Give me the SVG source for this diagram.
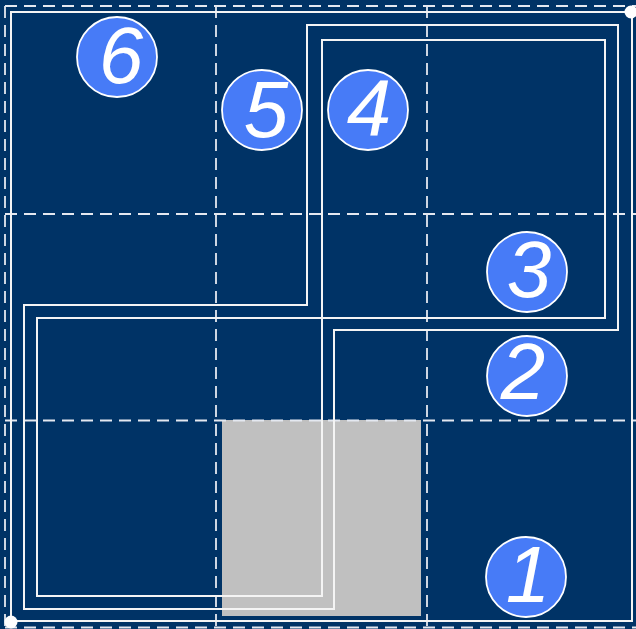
<svg xmlns="http://www.w3.org/2000/svg" width="636" height="629" viewBox="0 0 636 629">
<defs>
<style>
.grid{stroke:#e4e8f0;stroke-width:1.8;stroke-dasharray:12 7;fill:none}
.wire{stroke:#f4f4f4;stroke-width:2;fill:none}
.node circle{fill:#477bf7;stroke:#ffffff;stroke-width:1.8}
.node text{fill:#ffffff;font-family:"Liberation Sans",Arial,sans-serif;font-style:italic;font-size:80px;text-anchor:middle}
.dot{fill:#ffffff}
</style>
</defs>
<rect x="0" y="0" width="636" height="629" fill="#003366"/>
<rect id="block" x="222" y="420" width="199" height="196" fill="#c0c0c0"/>
<g id="grid">
<line class="grid" x1="5" y1="6" x2="5" y2="628"/>
<line class="grid" x1="216" y1="6" x2="216" y2="628"/>
<line class="grid" x1="427" y1="6" x2="427" y2="628"/>
<line class="grid" x1="5" y1="6" x2="636" y2="6"/>
<line class="grid" x1="5" y1="214" x2="636" y2="214"/>
<line class="grid" x1="5" y1="420.5" x2="636" y2="420.5"/>
<line class="grid" x1="5" y1="627.5" x2="636" y2="627.5"/>
</g>
<g id="connectors">
<path class="wire" d="M11,621 L11,12 L632,12 L632,621 Z"/>
<path class="wire" d="M307,25 L618,25 L618,330 L334,330 L334,609 L24,609 L24,305 L307,305 Z"/>
<path class="wire" d="M322,40 L605,40 L605,318 L37,318 L37,596 L322,596 Z"/>
<circle class="dot" cx="11" cy="622" r="6.5"/>
<circle class="dot" cx="631" cy="12" r="6.5"/>
</g>
<g id="node6" class="node"><circle cx="117" cy="57" r="40"/><text x="121" y="83">6</text></g>
<g id="node5" class="node"><circle cx="262" cy="110" r="40"/><text x="266" y="137">5</text></g>
<g id="node4" class="node"><circle cx="368" cy="110" r="40"/><text x="369" y="135">4</text></g>
<g id="node3" class="node"><circle cx="527" cy="272" r="40"/><text x="529" y="297">3</text></g>
<g id="node2" class="node"><circle cx="527" cy="376" r="40"/><text x="523" y="399">2</text></g>
<g id="node1" class="node"><circle cx="526" cy="577" r="40"/><text x="528" y="602">1</text></g>
</svg>
